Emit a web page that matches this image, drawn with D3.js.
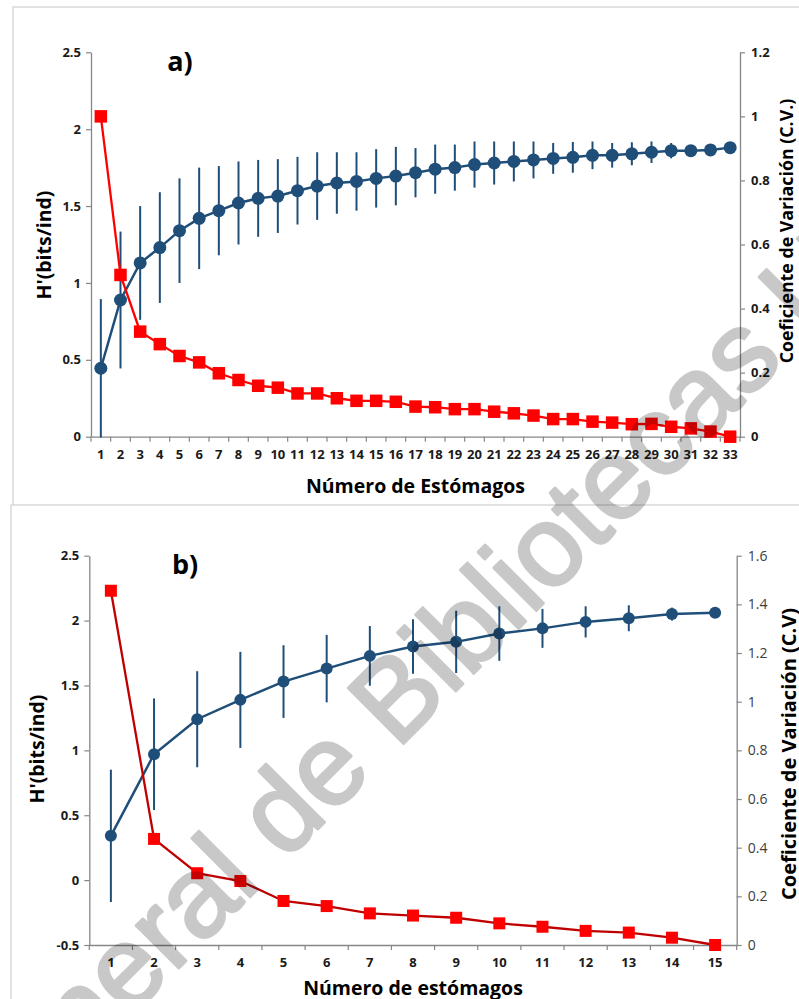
<!DOCTYPE html>
<html>
<head>
<meta charset="utf-8">
<script src="https://cdn.jsdelivr.net/npm/d3@7"></script>
<style>
  html, body { margin: 0; padding: 0; background: #fff; }
  svg { display: block; }
</style>
</head>
<body>
<svg id="fig" width="799" height="999"></svg>
<script>
// ---- Panel a): 33 stomachs ----
const estomagosA = [1,2,3,4,5,6,7,8,9,10,11,12,13,14,15,16,17,18,19,20,21,22,23,24,25,26,27,28,29,30,31,32,33];
const hA    = [0.445,0.889,1.13,1.23,1.34,1.42,1.47,1.52,1.55,1.565,1.60,1.63,1.65,1.66,1.68,1.695,1.717,1.74,1.75,1.77,1.78,1.79,1.80,1.81,1.817,1.83,1.83,1.84,1.85,1.86,1.86,1.865,1.88];
const hErrA = [0.45,0.445,0.37,0.36,0.34,0.33,0.29,0.27,0.25,0.24,0.22,0.22,0.20,0.19,0.19,0.19,0.16,0.16,0.15,0.15,0.14,0.13,0.12,0.10,0.10,0.09,0.08,0.075,0.07,0.05,0.03,0,0];
const cvA   = [1.0,0.505,0.328,0.289,0.252,0.232,0.198,0.177,0.159,0.153,0.135,0.135,0.120,0.112,0.112,0.109,0.094,0.092,0.086,0.086,0.078,0.073,0.066,0.055,0.055,0.047,0.044,0.039,0.040,0.031,0.026,0.016,0];
const hTicksA  = [0,0.5,1,1.5,2,2.5];
const cvTicksA = [0,0.2,0.4,0.6,0.8,1,1.2];

// ---- Panel b): 15 stomachs ----
const estomagosB = [1,2,3,4,5,6,7,8,9,10,11,12,13,14,15];
const hB    = [0.341,0.97,1.24,1.389,1.53,1.63,1.728,1.80,1.836,1.90,1.94,1.99,2.018,2.05,2.06];
const hErrB = [0.51,0.43,0.37,0.37,0.28,0.26,0.23,0.21,0.24,0.21,0.15,0.12,0.10,0.05,0];
const cvB   = [1.456,0.436,0.295,0.263,0.181,0.160,0.130,0.121,0.112,0.089,0.075,0.058,0.051,0.030,0];
const hTicksB  = [-0.5,0,0.5,1,1.5,2,2.5];
const cvTicksB = [0,0.2,0.4,0.6,0.8,1,1.2,1.4,1.6];

const WATERMARK = "Dirección General de Bibliotecas UAQ";

const FONT = "'Open Sans', 'Noto Sans', sans-serif";
const BLUE = "#1f4e79";
const RED = "#ff0000";
const AXIS = "#868686";

const svg = d3.select("#fig");

// chart-area frames
svg.append("path").attr("d", "M13,505V7H799")
  .attr("fill", "none").attr("stroke", "#d9d9d9").attr("stroke-width", 1.5);
svg.append("path").attr("d", "M11,999V505H799")
  .attr("fill", "none").attr("stroke", "#d9d9d9").attr("stroke-width", 1.5);

function drawPanel(p) {
  const g = svg.append("g");
  const x = d3.scaleBand().domain(p.cats).range([p.left, p.right]).padding(0);
  const yH = d3.scaleLinear().domain(p.hDomain).range([p.bottom, p.top]);
  const yCV = d3.scaleLinear().domain(p.cvDomain).range([p.bottom, p.top]);
  const cx = c => x(c) + x.bandwidth() / 2;

  // left axis: H'
  const axL = g.append("g").attr("transform", `translate(${p.left},0)`)
    .call(d3.axisLeft(yH).tickValues(p.hTicks).tickSize(5).tickSizeOuter(0)
      .tickPadding(5).tickFormat(d => String(d)));
  axL.selectAll("text").attr("font-family", FONT).attr("font-size", p.tickSize)
    .attr("font-weight", 700).attr("fill", "#1a1a1a");

  // right axis: coefficient of variation
  const axR = g.append("g").attr("transform", `translate(${p.right},0)`)
    .call(d3.axisRight(yCV).tickValues(p.cvTicks).tickSize(5).tickSizeOuter(0)
      .tickPadding(6).tickFormat(d => String(d)));
  axR.selectAll("text").attr("font-family", FONT).attr("font-size", p.rightTickSize)
    .attr("font-weight", p.rightTickWeight).attr("fill", p.rightTickColor);

  // bottom axis: labels centred on categories, ticks between categories
  const axB = g.append("g").attr("transform", `translate(0,${p.bottom})`)
    .call(d3.axisBottom(x).tickSize(0).tickSizeOuter(0).tickPadding(p.xLabelPad));
  axB.selectAll("text").attr("font-family", FONT).attr("font-size", p.tickSize)
    .attr("font-weight", 700).attr("fill", "#1a1a1a");
  const bounds = p.cats.map(c => x(c)).concat([p.right]);
  g.append("g").selectAll("line").data(bounds).join("line")
    .attr("x1", d => d).attr("x2", d => d)
    .attr("y1", p.bottom).attr("y2", p.bottom + 5)
    .attr("stroke", AXIS).attr("stroke-width", 1.2);

  [axL, axR, axB].forEach(a => {
    a.select(".domain").attr("stroke", AXIS).attr("stroke-width", 1.3);
    a.selectAll(".tick line").attr("stroke", AXIS).attr("stroke-width", 1.2);
  });

  // H' series: error bars, line and circles
  const hData = p.cats.map((c, i) => ({ c, v: p.h[i], e: p.hErr[i] }));
  g.append("g").selectAll("line").data(hData.filter(d => d.e > 0)).join("line")
    .attr("x1", d => cx(d.c)).attr("x2", d => cx(d.c))
    .attr("y1", d => yH(d.v - d.e)).attr("y2", d => yH(d.v + d.e))
    .attr("stroke", BLUE).attr("stroke-width", 2);
  g.append("path").datum(hData)
    .attr("d", d3.line().x(d => cx(d.c)).y(d => yH(d.v)))
    .attr("fill", "none").attr("stroke", BLUE).attr("stroke-width", 2.5);
  g.append("g").selectAll("circle").data(hData).join("circle")
    .attr("cx", d => cx(d.c)).attr("cy", d => yH(d.v)).attr("r", p.dotR)
    .attr("fill", BLUE);

  // C.V. series: line and squares
  const cvData = p.cats.map((c, i) => ({ c, v: p.cv[i] }));
  g.append("path").datum(cvData)
    .attr("d", d3.line().x(d => cx(d.c)).y(d => yCV(d.v)))
    .attr("fill", "none").attr("stroke", p.cvLine).attr("stroke-width", 2.3);
  g.append("g").selectAll("rect").data(cvData).join("rect")
    .attr("x", d => cx(d.c) - p.sq / 2).attr("y", d => yCV(d.v) - p.sq / 2)
    .attr("width", p.sq).attr("height", p.sq).attr("fill", RED);

  // panel letter
  g.append("text").attr("x", p.letterX).attr("y", p.letterY)
    .attr("text-anchor", "middle").attr("font-family", FONT)
    .attr("font-size", 27).attr("font-weight", 700).attr("fill", "#000")
    .text(p.letter);

  // axis titles
  g.append("text")
    .attr("transform", `translate(${p.hTitleX},${p.hTitleY}) rotate(-90)`)
    .attr("text-anchor", "middle").attr("dominant-baseline", "central")
    .attr("font-family", FONT).attr("font-size", p.hTitleSize).attr("font-weight", 700)
    .attr("fill", "#000").text("H'(bits/ind)");
  g.append("text")
    .attr("transform", `translate(${p.cvTitleX},${p.cvTitleY}) rotate(-90)`)
    .attr("text-anchor", "middle").attr("dominant-baseline", "central")
    .attr("font-family", FONT).attr("font-size", p.cvTitleSize).attr("font-weight", 700)
    .attr("fill", "#000").text(p.cvTitle);
  g.append("text")
    .attr("x", p.xTitleX).attr("y", p.xTitleY)
    .attr("text-anchor", "middle").attr("dominant-baseline", "central")
    .attr("font-family", FONT).attr("font-size", p.xTitleSize).attr("font-weight", 700)
    .attr("fill", "#000").text(p.xTitle);
}

drawPanel({
  cats: estomagosA, h: hA, hErr: hErrA, cv: cvA,
  hDomain: [0, 2.5], cvDomain: [0, 1.2], hTicks: hTicksA, cvTicks: cvTicksA,
  left: 91, right: 740, top: 52.3, bottom: 436.7,
  tickSize: 13, rightTickSize: 13, rightTickWeight: 700, rightTickColor: "#1a1a1a",
  xLabelPad: 13, dotR: 6.5, sq: 12.5, cvLine: RED,
  letter: "a)", letterX: 180, letterY: 71,
  hTitleX: 43, hTitleY: 245, hTitleSize: 19.5,
  cvTitleX: 786, cvTitleY: 231, cvTitleSize: 17.8, cvTitle: "Coeficiente de Variación (C.V.)",
  xTitleX: 415.5, xTitleY: 485, xTitleSize: 19.5, xTitle: "Número de Estómagos"
});

drawPanel({
  cats: estomagosB, h: hB, hErr: hErrB, cv: cvB,
  hDomain: [-0.5, 2.5], cvDomain: [0, 1.6], hTicks: hTicksB, cvTicks: cvTicksB,
  left: 89.3, right: 736.7, top: 555.7, bottom: 945,
  tickSize: 13, rightTickSize: 14, rightTickWeight: 400, rightTickColor: "#404040",
  xLabelPad: 13, dotR: 6, sq: 12, cvLine: "#c00000",
  letter: "b)", letterX: 185, letterY: 574,
  hTitleX: 36, hTitleY: 749, hTitleSize: 19.5,
  cvTitleX: 788, cvTitleY: 754, cvTitleSize: 20, cvTitle: "Coeficiente de Variación (C.V)",
  xTitleX: 413, xTitleY: 987, xTitleSize: 19.5, xTitle: "Número de estómagos"
});

// library watermark laid over both panels, running diagonally upward
const wmLayer = svg.append("g").attr("opacity", 0.21);
const wm = wmLayer.append("text")
  .attr("font-family", "'Liberation Sans Narrow', 'Liberation Sans', Arial, sans-serif")
  .attr("font-size", 140).attr("fill", "#000")
  .attr("stroke", "#000").attr("stroke-width", 3).attr("stroke-linejoin", "round")
  .text(WATERMARK);
const iE = WATERMARK.indexOf("eral");
const iS = WATERMARK.indexOf("as UAQ") + 1;
const charMid = i => {
  const b = wm.node().getExtentOfChar(i);
  return b.x + b.width / 2;
};
// size the text so the "e" ... "s" span covers the required diagonal distance
const span = Math.hypot(745 - 130, 360 - 975);
const fs = 140 * span / (charMid(iS) - charMid(iE));
wm.attr("font-size", fs);
const base = wm.node().getStartPositionOfChar(iE).y;
const ex = charMid(iE), ey = base - 0.26 * fs;
const ang = Math.atan2(360 - 975, 745 - 130) * 180 / Math.PI;
wm.attr("transform", `translate(130,975) rotate(${ang}) translate(${-ex},${-ey})`);
</script>
</body>
</html>
